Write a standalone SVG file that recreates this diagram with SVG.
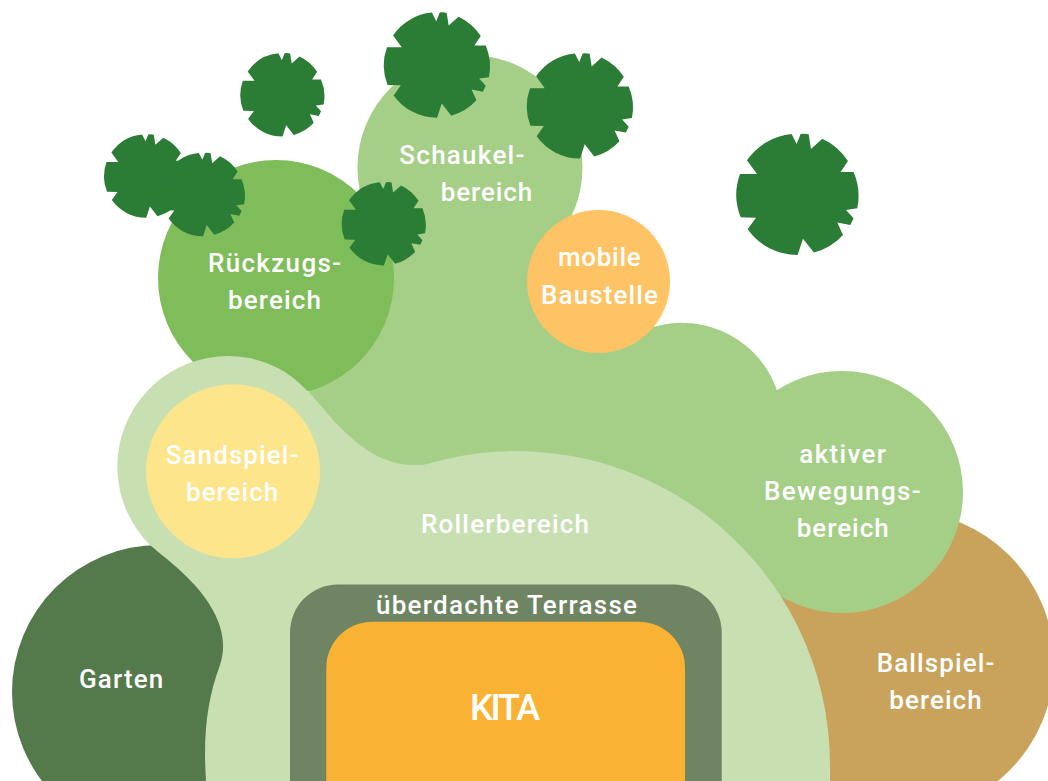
<svg xmlns="http://www.w3.org/2000/svg" width="1048" height="781" viewBox="0 0 1048 781">
<style>
text{font-family:"Roboto","Noto Sans","Liberation Sans",sans-serif;font-size:26px;font-weight:500;fill:#fff}
.kita{font-size:36px}
.tree{fill:#2b7d36}
</style>
<defs>
<path id="tree" class="tree" d="M-9.3-98.9L-1.1-82.5L5.5-98.9Q12-100 18.6-98.3L22.4-74.3L41-91.2A100 100 0 0 1 83-54.6L71-36.6L92.3-36.6A100 100 0 0 1 98.4 23L79.8 25.7L92.3 39.3L86.9 50.3L65.6 46.4L74.9 66.7A100 100 0 0 1 27.3 95.6L9.3 72.7L.5 99.5A100 100 0 0 1-81.4 57.4L-67.8 38.3L-92.9 37.7A100 100 0 0 1-94-33.3L-66.1-33.3L-82.5-55.7A100 100 0 0 1-9.3-98.9Z"/>
</defs>
<g id="ballspielbereich"><circle cx="902" cy="663" r="152" fill="#c9a35b"/><text x="876.7" y="671.7" textLength="117.6">Ballspiel-</text><text x="889.3" y="709.3" textLength="92.4">bereich</text></g>
<g id="garten"><circle cx="159" cy="692" r="147" fill="#54794a"/><text x="79" y="688.3" textLength="84.3">Garten</text></g>
<g id="bewegungsflaeche">
<path fill="#a5cf87" d="M470 167L560 250L640 340L682 400L776 400L842 492L780 600L500 500L300 430L340 260Z"/>
<circle cx="470" cy="167.5" r="112.5" fill="#a5cf87"/>
<circle cx="682" cy="423.5" r="100.7" fill="#a5cf87"/>
<circle cx="842" cy="492" r="121" fill="#a5cf87"/>
</g>
<g id="rueckzugsbereich"><circle cx="276" cy="278" r="118" fill="#7fbc5a"/></g>
<g id="rollerbereich"><path fill="#c8dfb2" d="M206 781C203 735 207 700 220 665C230 635 215 605 187 577C172 562 160 554 150 545A110.5 110.5 0 0 1 285 372C305 385 320 405 333 420C355 443 380 465 413 465C420 465 424 465 427 464A314 314 0 0 1 830 766L830 781Z"/><text x="421" y="533" textLength="168">Rollerbereich</text></g>
<g id="terrasse"><rect x="290" y="584.5" width="431.7" height="260" rx="48" fill="#6e8462"/><text x="376" y="614" textLength="261">überdachte Terrasse</text></g>
<g id="kita"><rect x="326.3" y="621.7" width="358.7" height="230" rx="46" fill="#f9b233"/><text class="kita" x="470" y="720" textLength="70">KITA</text></g>
<g id="sandspielbereich"><circle cx="233" cy="471.3" r="87" fill="#fde58b"/><text x="165.7" y="464" textLength="132.6">Sandspiel-</text><text x="186" y="500.7" textLength="92.3">bereich</text></g>
<g id="mobile-baustelle"><circle cx="598.5" cy="281.5" r="71.5" fill="#fec364"/><text x="558" y="266" textLength="82.7">mobile</text><text x="541" y="304" textLength="117">Baustelle</text></g>
<g id="labels-gruen">
<text x="208" y="271.7" textLength="133">Rückzugs-</text><text x="228" y="309" textLength="93">bereich</text>
<text x="399.3" y="164" textLength="125">Schaukel-</text><text x="440.7" y="201" textLength="91.6">bereich</text>
<text x="799.3" y="462.7" textLength="86.7">aktiver</text><text x="764" y="500" textLength="156.7">Bewegungs-</text><text x="796.7" y="537.3" textLength="92">bereich</text>
</g>
<g id="baeume">
<use href="#tree" transform="translate(797.3 194.3) scale(.61)"/>
<use href="#tree" transform="translate(436.8 65) scale(.53)"/>
<use href="#tree" transform="translate(579.8 105.8) scale(.53)"/>
<use href="#tree" transform="translate(282.3 94.8) scale(.42)"/>
<use href="#tree" transform="translate(146 176) scale(.42)"/>
<use href="#tree" transform="translate(202.8 194.5) scale(.42)"/>
<use href="#tree" transform="translate(383.7 223.7) scale(.42)"/>
</g>
</svg>
